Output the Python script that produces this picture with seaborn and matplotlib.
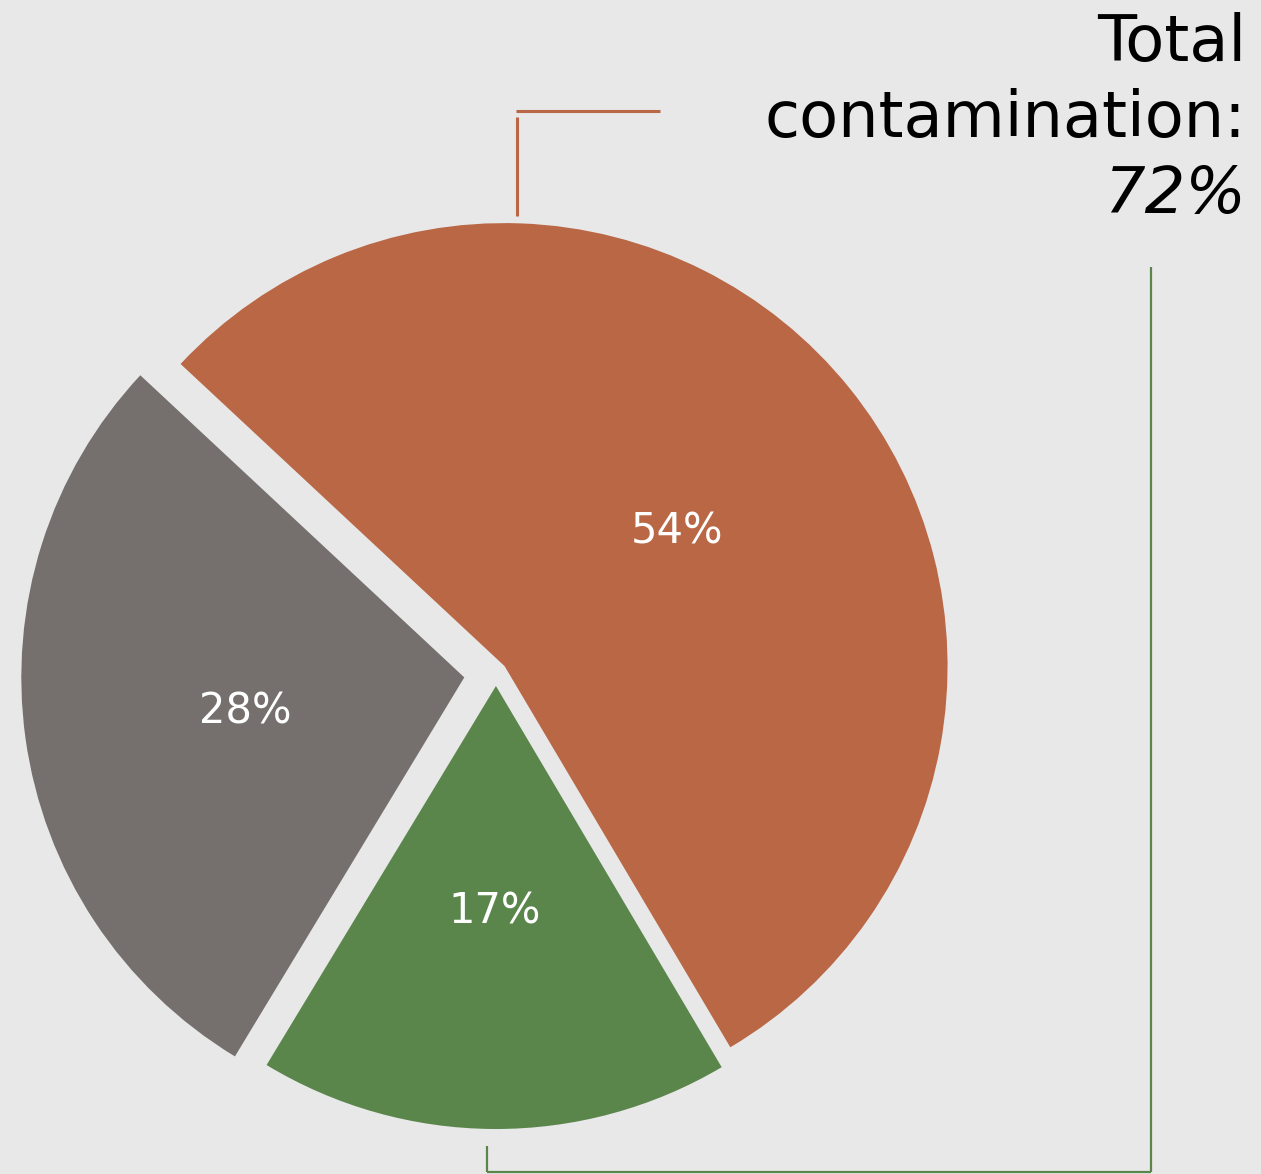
import matplotlib
matplotlib.use("Agg")
import matplotlib.pyplot as plt
import seaborn as sns

# ---- data ----
categories = ["Heavily contaminated", "Lightly contaminated", "Not contaminated"]
values = [54, 17, 28]
pct_labels = ["54%", "17%", "28%"]
title_lines = ["Total", "contamination:"]
total_label = "72%"

# ---- style ----
colors = ["#B96745", "#5A864B", "#75706E"]
bg = "#E8E8E8"
W, H = 1261, 1174

sns.set_theme(style="white", rc={"figure.facecolor": bg, "axes.facecolor": bg})
plt.rcParams["font.family"] = ["DejaVu Sans"]

fig = plt.figure(figsize=(W / 100, H / 100), dpi=100)
ax = fig.add_axes([0, 0, 1, 1])

def py(y):
    return H - y

wedges, texts, autotexts = ax.pie(
    values,
    colors=colors,
    startangle=137.0,
    counterclock=False,
    radius=443,
    center=(496, py(673)),
    explode=[11, 13, 32],
    autopct="%1.0f%%",
    pctdistance=0.5,
    wedgeprops=dict(linewidth=0),
    textprops=dict(color="white", fontsize=30),
    frame=True,
)
for t, lab in zip(autotexts, pct_labels):
    t.set_text(lab)
    x0, y0 = t.get_position()
    t.set_position((x0, y0 - 4))
ax.set_xlim(0, W)
ax.set_ylim(0, H)
ax.set_aspect("equal")
ax.axis("off")

# callout lines
ax.plot([516, 660], [py(111), py(111)], color=colors[0], lw=2.2, solid_capstyle="butt")
ax.plot([517, 517], [py(117), py(216)], color=colors[0], lw=2.2, solid_capstyle="butt")
ax.plot([1150.5, 1150.5], [py(267), py(1172)], color=colors[1], lw=1.6, solid_capstyle="butt")
ax.plot([487, 1151], [py(1172), py(1172)], color=colors[1], lw=1.6, solid_capstyle="butt")
ax.plot([487, 487], [py(1146), py(1172)], color=colors[1], lw=1.6, solid_capstyle="butt")

# annotation text
fs = 46
ax.text(1246, py(61), title_lines[0], ha="right", va="baseline", fontsize=fs, color="black")
ax.text(1246, py(137), title_lines[1], ha="right", va="baseline", fontsize=fs, color="black")
ax.text(1246, py(213), total_label, ha="right", va="baseline", fontsize=fs, color="black", style="italic")

fig.savefig("out.png", dpi=100, facecolor=bg)
